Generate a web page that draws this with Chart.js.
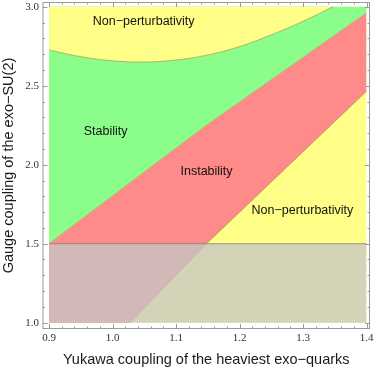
<!DOCTYPE html>
<html>
<head>
<meta charset="utf-8">
<script src="https://cdn.jsdelivr.net/npm/chart.js@4/dist/chart.umd.min.js"></script>
<style>
  html, body { margin: 0; padding: 0; background: #fff; }
  #wrap { width: 374px; height: 370px; }
</style>
</head>
<body>
<div id="wrap"><canvas id="myChart" width="374" height="370"></canvas></div>
<script>
/* Region plot: stability / instability / non-perturbativity of the exo-SU(2) sector */

// tick labels
let xTicks = [0.9, 1.0, 1.1, 1.2, 1.3, 1.4];
let yTicks = [1.0, 1.5, 2.0, 2.5, 3.0];

// edges of the plotted region
let rangeX = [0.9, 1.4];
let rangeY = [1.0, 3.0];

// non-perturbativity boundary (top curve)
let npX = [0.9, 0.95, 1.0, 1.05, 1.1, 1.15, 1.2, 1.25, 1.3, 1.347];
let npY = [2.726, 2.684, 2.658, 2.65, 2.663, 2.695, 2.748, 2.822, 2.908, 3.0];

// stability / instability boundary
let stabX = [0.9, 1.15, 1.4];
let stabY = [1.5, 2.255, 2.96];

// instability / non-perturbativity boundary (first point is the corner on the bottom edge)
let instX = [0.9, 1.028, 1.148, 1.4];
let instY = [1.0, 1.0, 1.5, 2.465];

// excluded band (shaded gray below this gauge coupling)
let cutY = 1.5;

// region labels
let labelText = ['Non\u2212perturbativity', 'Stability', 'Instability', 'Non\u2212perturbativity'];
let labelX = [1.049, 0.989, 1.148, 1.299];
let labelY = [2.905, 2.208, 1.955, 1.709];

let yellow = 'rgb(255, 255, 136)';
let green = 'rgb(138, 253, 138)';
let red = 'rgb(255, 138, 138)';
let edge = 'rgba(150, 125, 80, 0.55)';

function pts(xs, ys){
    let out = [];
    for(let i = 0; i < xs.length; i++){
        out.push({x: xs[i], y: ys[i]});
    }
    return out;
}

function flat(y){
    return [{x: rangeX[0], y: y}, {x: rangeX[1], y: y}];
}

let data = {
    datasets: [
        // 0: top edge, fills down to bottom edge -> yellow background
        {data: flat(rangeY[1]), fill: {target: 1}, backgroundColor: yellow, borderWidth: 0, order: 7},
        // 1: bottom edge
        {data: flat(rangeY[0]), fill: false, borderWidth: 0, order: 8},
        // 2: stability boundary, green up to the top edge
        {data: pts(stabX, stabY), fill: {target: 0}, backgroundColor: green, borderColor: edge, borderWidth: 1, order: 6},
        // 3: instability region, red up to the stability line
        {data: pts(instX, instY), fill: {target: 2}, backgroundColor: red, borderWidth: 0, order: 5},
        // 4: instability boundary stroke (sloped part only)
        {data: pts(instX.slice(1), instY.slice(1)), fill: false, borderColor: edge, borderWidth: 1, order: 4},
        // 5: non-perturbativity curve, yellow up to the top edge
        {data: pts(npX, npY), fill: {target: 0}, backgroundColor: yellow, borderColor: edge, borderWidth: 1,
         tension: 0.4, order: 3},
        // 6: gray band below the cut
        {data: flat(cutY), fill: {target: 1}, backgroundColor: 'rgba(198, 198, 198, 0.77)', borderColor: 'rgba(130, 130, 130, 0.8)', borderWidth: 1, order: 2}
    ]
};

// frame, ticks and region labels like the original plot
let framePlugin = {
    id: 'frame',
    afterDraw(chart){
        let ctx = chart.ctx;
        let a = chart.chartArea;
        let sx = chart.scales.x;
        let sy = chart.scales.y;
        ctx.save();
        ctx.strokeStyle = '#9a9a9a';
        ctx.lineWidth = 1;
        ctx.strokeRect(a.left + 0.5, a.top + 0.5, a.right - a.left - 1, a.bottom - a.top - 1);

        ctx.beginPath();
        // x ticks, major every 0.1, minor every 0.02
        for(let i = 0; i <= 25; i++){
            let v = rangeX[0] + i * 0.02;
            let px = Math.round(sx.getPixelForValue(v)) + 0.5;
            let len = (i % 5 === 0) ? 5 : 2.5;
            ctx.moveTo(px, a.bottom); ctx.lineTo(px, a.bottom - len);
            ctx.moveTo(px, a.top); ctx.lineTo(px, a.top + len);
        }
        // y ticks, major every 0.5, minor every 0.1
        for(let i = 0; i <= 20; i++){
            let v = rangeY[0] + i * 0.1;
            let py = Math.round(sy.getPixelForValue(v)) + 0.5;
            let len = (i % 5 === 0) ? 5 : 2.5;
            ctx.moveTo(a.left, py); ctx.lineTo(a.left + len, py);
            ctx.moveTo(a.right, py); ctx.lineTo(a.right - len, py);
        }
        ctx.stroke();

        ctx.fillStyle = '#111';
        ctx.font = '12.5px "Liberation Sans", Arial, sans-serif';
        ctx.textAlign = 'center';
        ctx.textBaseline = 'middle';
        for(let i = 0; i < labelText.length; i++){
            ctx.fillText(labelText[i], sx.getPixelForValue(labelX[i]), sy.getPixelForValue(labelY[i]));
        }
        ctx.restore();
    }
};

let tickFont = {family: '"Liberation Serif", "Times New Roman", serif', size: 11};
let titleFont = {family: '"Liberation Sans", Arial, sans-serif', size: 14.5};

let config = {
    type: 'scatter',
    data: data,
    options: {
        responsive: false,
        animation: false,
        devicePixelRatio: 1,
        showLine: true,
        layout: {autoPadding: false, padding: {top: 2, right: 4, left: 0, bottom: 0}},
        elements: {point: {radius: 0, hoverRadius: 0}},
        plugins: {legend: {display: false}, tooltip: {enabled: false}},
        scales: {
            x: {
                type: 'linear',
                min: 0.8896,
                max: 1.4055,
                afterBuildTicks: scale => { scale.ticks = xTicks.map(v => ({value: v})); },
                afterFit: scale => { scale.height = 41; scale.paddingLeft = 0; scale.paddingRight = 0; },
                grid: {display: false, drawTicks: false},
                border: {display: false},
                ticks: {font: tickFont, color: '#333', padding: 3, maxRotation: 0, autoSkip: false,
                        callback: v => v.toFixed(1)},
                title: {display: true, text: 'Yukawa coupling of the heaviest exo\u2212quarks',
                        font: titleFont, color: '#1a1a1a', padding: {top: 0, bottom: 1}}
            },
            y: {
                type: 'linear',
                min: 0.96,
                max: 3.03,
                afterBuildTicks: scale => { scale.ticks = yTicks.map(v => ({value: v})); },
                afterFit: scale => { scale.width = 42.5; scale.paddingTop = 0; scale.paddingBottom = 0; },
                grid: {display: false, drawTicks: false},
                border: {display: false},
                ticks: {font: tickFont, color: '#333', padding: 3.5, autoSkip: false,
                        callback: v => v.toFixed(1)},
                title: {display: true, text: 'Gauge coupling of the exo\u2212SU(2)',
                        font: titleFont, color: '#1a1a1a', padding: {top: 0.5, bottom: 0}}
            }
        }
    },
    plugins: [framePlugin]
};

let myChart = new Chart(document.getElementById('myChart').getContext('2d'), config);
</script>
</body>
</html>
